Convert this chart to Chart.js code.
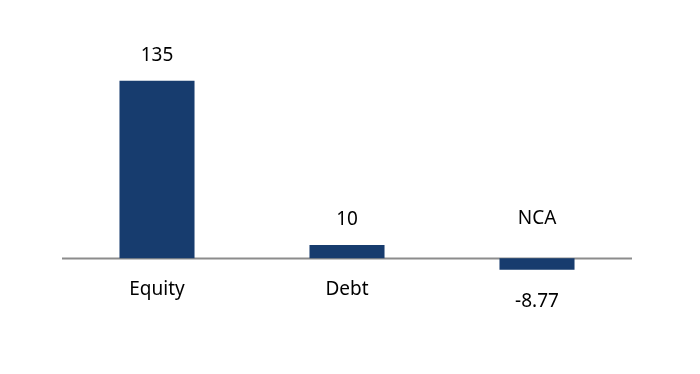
<!DOCTYPE html>
<html><head><meta charset="utf-8">
<script src="https://cdn.jsdelivr.net/npm/chart.js@4.4.1/dist/chart.umd.min.js"></script>
<style>html,body{margin:0;padding:0;background:#fff;}#wrap{width:700px;height:374px;}</style>
</head><body><div id="wrap"><canvas id="c" width="700" height="374"></canvas></div>
<script>
const categories = ["Equity", "Debt", "NCA"];
const values = [135, 10, -8.77];
const valueLabels = ["135", "10", "-8.77"];

const labelPlugin = {
  id: 'labels',
  beforeDatasetsDraw(chart) {
    const ctx = chart.ctx, y = chart.scales.y, a = chart.chartArea;
    const y0 = Math.round(y.getPixelForValue(0));
    ctx.save();
    ctx.strokeStyle = '#8c8c8c';
    ctx.lineWidth = 2;
    ctx.beginPath();
    ctx.moveTo(a.left, y0 + 0.5);
    ctx.lineTo(a.right, y0 + 0.5);
    ctx.stroke();
    ctx.restore();
  },
  afterDatasetsDraw(chart) {
    const ctx = chart.ctx, y = chart.scales.y;
    const meta = chart.getDatasetMeta(0);
    const y0 = y.getPixelForValue(0);
    ctx.save();
    ctx.font = '19px "Noto Sans"';
    ctx.fillStyle = '#000';
    ctx.textAlign = 'center';
    ctx.textBaseline = 'alphabetic';
    meta.data.forEach((bar, i) => {
      const v = values[i];
      const x = bar.x;
      if (v >= 0) {
        ctx.fillText(valueLabels[i], x, bar.y - 20);
        ctx.fillText(categories[i], x, y0 + 37);
      } else {
        ctx.fillText(valueLabels[i], x, bar.y + 37);
        ctx.fillText(categories[i], x, y0 - 34);
      }
    });
    ctx.restore();
  }
};

new Chart(document.getElementById('c'), {
  type: 'bar',
  data: {
    labels: categories,
    datasets: [{
      data: values,
      backgroundColor: '#173c6e',
      borderWidth: 0,
      categoryPercentage: 1,
      barPercentage: 0.395
    }]
  },
  options: {
    responsive: false,
    animation: false,
    layout: { padding: { left: 62, right: 68, top: 61, bottom: 50 } },
    plugins: { legend: { display: false }, tooltip: { enabled: false } },
    scales: {
      x: { display: false },
      y: { display: false, min: -50, max: 150 }
    }
  },
  plugins: [labelPlugin]
});
</script></body></html>
